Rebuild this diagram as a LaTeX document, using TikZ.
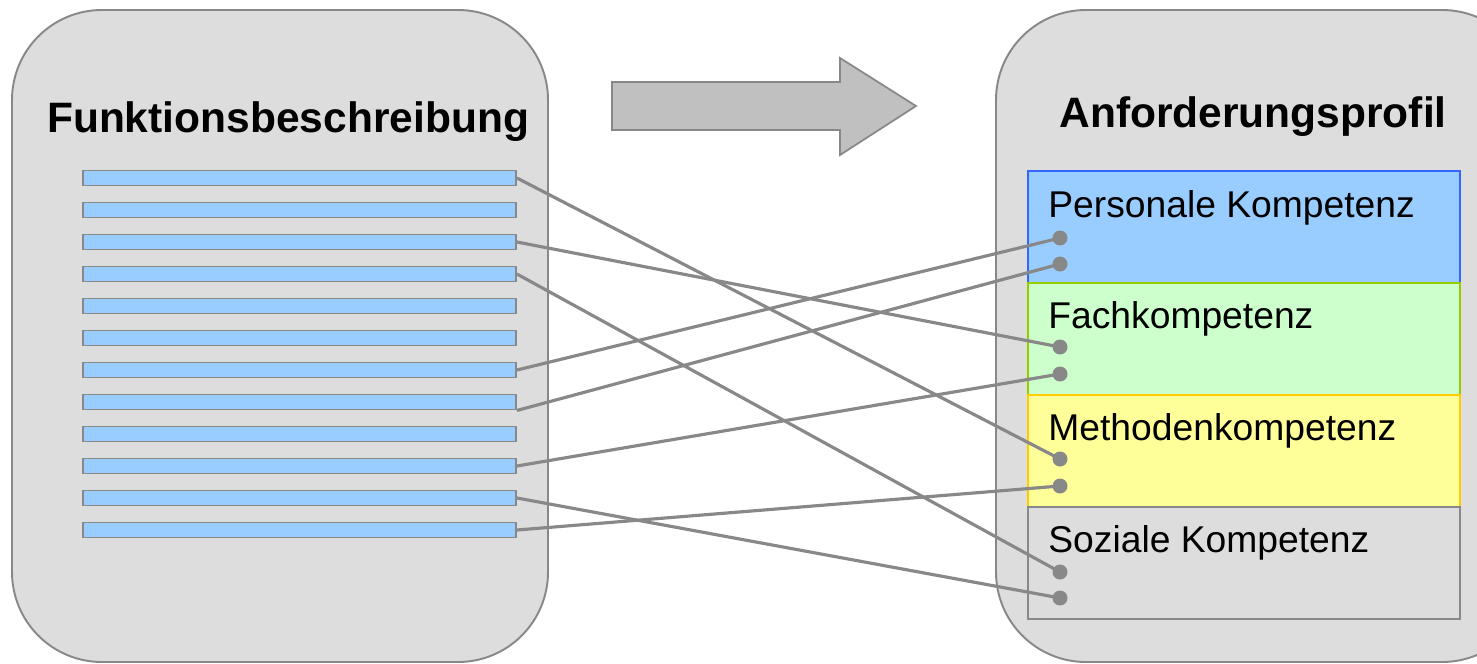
\documentclass[tikz,border=0pt]{standalone}
\usepackage{fontspec}
\setmainfont{Liberation Sans}

\definecolor{boxgray}{HTML}{DDDDDD}
\definecolor{linegray}{HTML}{888888}
\definecolor{arrowgray}{HTML}{C0C0C0}
\definecolor{barblue}{HTML}{99CCFF}
\definecolor{rowblue}{HTML}{3366FF}
\definecolor{fillgreen}{HTML}{CCFFCC}
\definecolor{rowgreen}{HTML}{99CC00}
\definecolor{fillyellow}{HTML}{FFFF99}
\definecolor{rowyellow}{HTML}{FFCC00}

\begin{document}
\begin{tikzpicture}[x=0.02cm,y=-0.02cm,
    bar/.style={draw=linegray, fill=barblue, line width=1.1pt, minimum width=8.66cm, minimum height=0.3cm, inner sep=0pt},
    dot/.style={circle, fill=linegray, minimum size=0.3cm, inner sep=0pt},
    link/.style={linegray, line width=1.8pt},
    row/.style={line width=1pt, minimum width=8.64cm, minimum height=2.24cm, inner sep=0pt},
    lbl/.style={anchor=base west, inner sep=0pt, font=\fontsize{21.2}{25}\selectfont},
    title/.style={anchor=base, inner sep=0pt, font=\fontsize{24.2}{28}\selectfont\bfseries}]
        \useasboundingbox (0,0) rectangle (1477,663);

        % Draw the two rounded boxes
        \draw[draw=linegray, fill=boxgray, line width=1.1pt, rounded corners=1.8cm] (12,10) rectangle (548,662);
        \draw[draw=linegray, fill=boxgray, line width=1.1pt, rounded corners=1.8cm] (996,10) rectangle (1532,662);

        % Draw the big arrow
        \draw[draw=linegray, fill=arrowgray, line width=1pt] (612,82) -- (840,82) -- (840,58) -- (916,106)
            -- (840,155) -- (840,130) -- (612,130) -- cycle;

        % Titles
        \node[title] (funktion) at (288,132) {Funktionsbeschreibung};
        \node[title] (profil) at (1253,127) {Anforderungsprofil};

        % Text lines of the description
        \foreach \i in {1,...,12} {
            \node[bar] (bar\i) at (299.5,146+32*\i) {};
        }

        % The four parts of the profile
        \node[row, draw=rowblue, fill=barblue] (personal) at (1244,227) {};
        \node[row, draw=rowgreen, fill=fillgreen] (fach) at (1244,339) {};
        \node[row, draw=rowyellow, fill=fillyellow] (methode) at (1244,451) {};
        \node[row, draw=linegray, fill=boxgray] (sozial) at (1244,563) {};

        \node[lbl] (personal-txt) at (1048,217) {Personale Kompetenz};
        \node[lbl] (fach-txt) at (1048,328) {Fachkompetenz};
        \node[lbl] (methode-txt) at (1048,440) {Methodenkompetenz};
        \node[lbl] (sozial-txt) at (1048,552) {Soziale Kompetenz};

        % Connection points
        \foreach \n/\y in {p1/238, p2/264, f1/347, f2/374, m1/459, m2/486, s1/572, s2/598} {
            \node[dot] (dot-\n) at (1060,\y) {};
        }

        % Draw the connections
        \foreach \a/\b in {1/m1, 3/f1, 4/s1, 7/p1, 10/f2, 11/s2, 12/m2} {
            \draw[link] (bar\a.east) -- (dot-\b.center);
        }
        \draw[link] (bar8.south east) -- (dot-p2.center);
    \end{tikzpicture}
\end{document}
